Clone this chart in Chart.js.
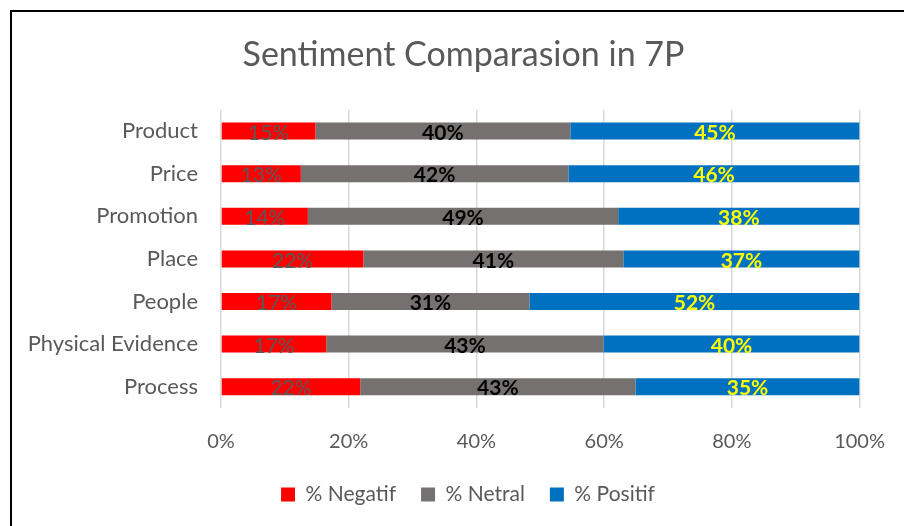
<!DOCTYPE html>
<html>
<head>
<meta charset="utf-8">
<script src="https://cdn.jsdelivr.net/npm/chart.js@4/dist/chart.umd.min.js"></script>
<style>
  html, body { margin: 0; padding: 0; background: #fff; overflow: hidden; }
  #wrap { position: absolute; left: 0; top: 0; width: 904px; height: 526px; }
  #frame { position: absolute; left: 10px; top: 10px; width: 1000px; height: 1000px; border: 2px solid #000; box-sizing: border-box; pointer-events: none; }
</style>
</head>
<body>
<div id="wrap"><canvas id="c" width="904" height="526"></canvas></div>
<div id="frame"></div>
<script>
const categories = ["Product", "Price", "Promotion", "Place", "People", "Physical Evidence", "Process"];
const negatif = [14.8, 12.5, 13.6, 22.3, 17.3, 16.5, 21.8];
const netral  = [39.9, 41.9, 48.6, 40.7, 31.0, 43.4, 43.1];
const positif = [45.3, 45.6, 37.8, 37.0, 51.7, 40.1, 35.1];
const seriesNames = ["% Negatif", "% Netral", "% Positif"];
const xTicks = [0, 20, 40, 60, 80, 100];

const FONT = "Lato, 'Open Sans', sans-serif";
const labelStyles = [
  { color: "#595959", weight: "normal" },
  { color: "#000000", weight: "bold" },
  { color: "#FFFF00", weight: "bold" }
];

const segLabels = {
  id: "segLabels",
  afterDatasetsDraw(chart) {
    const ctx = chart.ctx;
    chart.data.datasets.forEach((ds, i) => {
      const meta = chart.getDatasetMeta(i);
      const st = labelStyles[i];
      meta.data.forEach((bar, j) => {
        const v = ds.data[j];
        const cx = (bar.x + bar.base) / 2;
        ctx.save();
        ctx.font = st.weight + " 21px " + FONT;
        ctx.fillStyle = st.color;
        ctx.textAlign = "center";
        ctx.textBaseline = "middle";
        ctx.fillText(Math.round(v) + "%", cx, bar.y + 2);
        ctx.restore();
      });
    });
  }
};

// Centre title and legend on the same horizontal span as the reference
const boxShift = {
  id: "boxShift",
  afterLayout(chart) {
    const t = chart.titleBlock, l = chart.legend, x = chart.scales.x;
    if (t) { t.left = 66; }
    if (l) { l.left = 75; l.top -= 11; l.bottom -= 11; }
    if (x) { x.top += 3; x.bottom += 3; }
  }
};

new Chart(document.getElementById("c"), {
  type: "bar",
  data: {
    labels: categories,
    datasets: [
      { label: seriesNames[0], data: negatif, backgroundColor: "#FF0000" },
      { label: seriesNames[1], data: netral, backgroundColor: "#767171" },
      { label: seriesNames[2], data: positif, backgroundColor: "#0070C0" }
    ]
  },
  options: {
    indexAxis: "y",
    responsive: false,
    animation: false,
    devicePixelRatio: 1,
    categoryPercentage: 0.8,
    barPercentage: 0.5,
    layout: { padding: { left: 0, right: 43, top: 0, bottom: 0 } },
    scales: {
      x: {
        stacked: true,
        min: 0,
        max: 100,
        afterBuildTicks(scale) { scale.ticks = xTicks.map(v => ({ value: v })); },
        ticks: {
          callback: v => v + "%",
          color: "#595959",
          font: { family: FONT, size: 20 },
          padding: 19
        },
        grid: { color: "#D9D9D9", lineWidth: 1.5, drawTicks: false },
        border: { display: false }
      },
      y: {
        stacked: true,
        afterFit(scale) { scale.width = 221; },
        ticks: {
          color: "#595959",
          font: { family: FONT, size: 22 },
          padding: 23
        },
        grid: { display: false, drawTicks: false },
        border: { display: false }
      }
    },
    plugins: {
      title: {
        display: true,
        text: "Sentiment Comparasion in 7P",
        color: "#595959",
        font: { family: FONT, size: 34, weight: "normal", lineHeight: 1.2 },
        padding: { top: 35, bottom: 34 }
      },
      legend: {
        position: "bottom",
        labels: {
          boxWidth: 14,
          boxHeight: 14,
          color: "#595959",
          font: { family: FONT, size: 21 },
          padding: 25
        }
      },
      tooltip: { enabled: false }
    }
  },
  plugins: [segLabels, boxShift]
});
</script>
</body>
</html>
